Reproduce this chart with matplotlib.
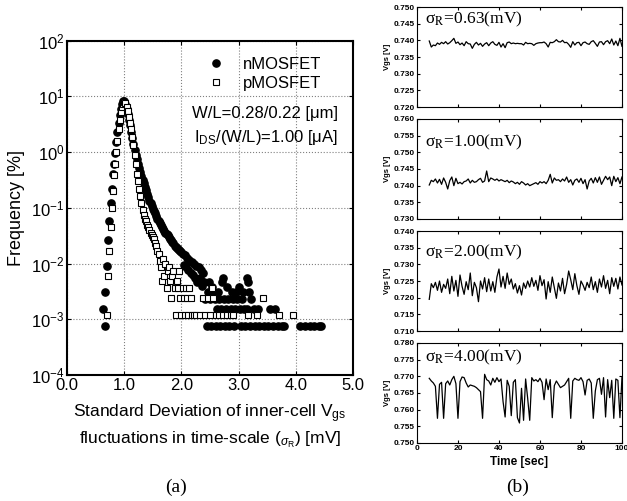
import matplotlib
matplotlib.use('Agg')
import matplotlib.pyplot as plt
import numpy as np

plt.rcParams['font.family'] = ['Liberation Sans', 'DejaVu Sans']
plt.rcParams['mathtext.fontset'] = 'custom'
plt.rcParams['mathtext.rm'] = 'Liberation Sans'
plt.rcParams['mathtext.it'] = 'Liberation Sans:italic'

# ---- (a) histogram of sigma_R ----
n_sigma = [0.63, 0.66, 0.67, 0.70, 0.72, 0.74, 0.76, 0.78, 0.80, 0.82,
           0.84, 0.86, 0.88, 0.90, 0.92, 0.94, 0.96, 0.98, 1.00, 1.02,
           1.04, 1.06, 1.08, 1.10, 1.12, 1.14, 1.16, 1.18, 1.20, 1.22,
           1.24, 1.26, 1.28, 1.30, 1.32, 1.34, 1.36, 1.38, 1.40, 1.42,
           1.44, 1.46, 1.48, 1.50, 1.52, 1.54, 1.56, 1.58, 1.60, 1.62,
           1.64, 1.66, 1.68, 1.70, 1.72, 1.74, 1.76, 1.78, 1.80, 1.82,
           1.84, 1.86, 1.88, 1.90, 1.92, 1.94, 1.96, 1.98, 2.00, 2.02,
           2.04, 2.06, 2.08, 2.10, 2.12, 2.14, 2.16, 2.18, 2.20, 2.22,
           2.24, 2.26, 2.28, 2.30, 2.32, 2.34, 2.36, 2.38, 2.40,
           2.42, 2.44, 2.46, 2.48, 2.50, 2.52, 2.54, 2.56, 2.58, 2.60,
           2.62, 2.64, 2.66, 2.68, 2.70, 2.71, 2.72, 2.74, 2.76, 2.78,
           2.80, 2.82, 2.84, 2.86, 2.88, 2.90, 2.92, 2.94, 2.96, 2.98,
           3.00, 3.02, 3.04, 3.06, 3.08, 3.10, 3.12, 3.14, 3.15, 3.16,
           3.18, 3.20, 3.22, 3.26, 3.28, 3.34, 3.36, 3.44, 3.52, 3.54,
           3.60, 3.64, 3.68, 3.76, 3.80, 4.08, 4.16, 4.24, 4.32, 4.40, 4.44]
n_freq = [1.54e-3, 7.7e-4, 3.08e-3, 9.2e-3, 0.026, 0.058, 0.12, 0.22, 0.40, 0.62,
          0.95, 1.5, 2.3, 3.3, 4.6, 6.0, 7.3, 8.3, 8.1, 7.2,
          6.0, 4.8, 3.8, 3.0, 2.3, 1.8, 1.4, 1.1, 0.90, 0.74,
          0.61, 0.51, 0.43, 0.37, 0.32, 0.28, 0.24, 0.21, 0.18, 0.155,
          0.135, 0.12, 0.107, 0.096, 0.087, 0.079, 0.071, 0.064, 0.058, 0.053,
          0.049, 0.045, 0.042, 0.039, 0.036, 0.034, 0.032, 0.030, 0.028, 0.026,
          0.024, 0.023, 0.021, 0.020, 0.019, 0.018, 0.0175, 0.017, 0.016, 0.015,
          0.0095, 0.014, 0.0085, 0.0125, 0.0077, 0.0115, 0.0069, 0.0105, 0.0062, 0.010,
          0.0054, 0.0092, 0.0046, 0.0085, 0.0054, 0.0077, 0.0039, 0.0069, 0.0046,
          2.31e-3, 7.7e-4, 3.08e-3, 4.62e-3, 2.31e-3, 7.7e-4, 3.85e-3, 3.08e-3, 2.31e-3, 7.7e-4,
          1.54e-3, 3.08e-3, 2.31e-3, 7.7e-4, 1.54e-3, 4.62e-3, 5.39e-3, 2.31e-3, 7.7e-4, 1.54e-3,
          3.85e-3, 2.31e-3, 7.7e-4, 1.54e-3, 3.08e-3, 2.31e-3, 7.7e-4, 1.54e-3, 3.08e-3, 2.31e-3,
          3.85e-3, 1.54e-3, 7.7e-4, 2.31e-3, 3.08e-3, 1.54e-3, 7.7e-4, 1.54e-3, 5.39e-3, 4.62e-3,
          3.08e-3, 7.7e-4, 2.31e-3, 1.54e-3, 7.7e-4, 1.54e-3, 7.7e-4, 7.7e-4, 7.7e-4, 1.54e-3,
          7.7e-4, 1.54e-3, 7.7e-4, 7.7e-4, 7.7e-4, 7.7e-4, 7.7e-4, 7.7e-4, 7.7e-4, 7.7e-4, 7.7e-4]

p_sigma = [0.69, 0.72, 0.74, 0.76, 0.78, 0.80, 0.82, 0.84, 0.86, 0.88,
           0.90, 0.92, 0.94, 0.96, 0.98, 1.00, 1.02, 1.04, 1.06, 1.08,
           1.10, 1.12, 1.14, 1.16, 1.18, 1.20, 1.22, 1.24, 1.26, 1.28,
           1.30, 1.32, 1.34, 1.36, 1.38, 1.40, 1.42, 1.44, 1.46, 1.48,
           1.50, 1.52, 1.54, 1.56, 1.58, 1.60, 1.62, 1.64, 1.66, 1.68,
           1.70, 1.72, 1.74, 1.76, 1.78, 1.80, 1.82, 1.84, 1.86, 1.88,
           1.90, 1.92, 1.94, 1.96, 1.98, 2.00, 2.02, 2.04, 2.06, 2.08,
           2.10, 2.12, 2.14, 2.16, 2.18, 2.22, 2.26, 2.32, 2.38, 2.42,
           2.46, 2.50, 2.53, 2.56, 2.60, 2.66, 2.72, 2.80, 2.86, 2.91,
           3.17, 3.32, 3.43, 3.71, 3.95]
p_freq = [1.21e-3, 6.0e-3, 0.017, 0.045, 0.098, 0.20, 0.38, 0.62, 1.0, 1.6,
          2.6, 3.8, 5.2, 6.5, 7.4, 7.9, 7.6, 6.4, 5.4, 4.3,
          3.3, 2.6, 1.9, 1.35, 0.90, 0.60, 0.40, 0.30, 0.22, 0.16,
          0.12, 0.092, 0.075, 0.064, 0.057, 0.050, 0.045, 0.040, 0.036, 0.033,
          0.030, 0.027, 0.023, 0.0206, 0.017, 0.0146, 0.0109, 8.49e-3, 4.85e-3, 0.0121,
          6.07e-3, 9.7e-3, 3.64e-3, 7.28e-3, 8.49e-3, 4.85e-3, 2.43e-3, 6.07e-3, 7.28e-3, 3.64e-3,
          1.21e-3, 4.85e-3, 3.64e-3, 7.28e-3, 2.43e-3, 1.21e-3, 3.64e-3, 2.43e-3, 1.21e-3, 3.64e-3,
          2.43e-3, 1.21e-3, 3.64e-3, 2.43e-3, 1.21e-3, 1.21e-3, 1.21e-3, 1.21e-3, 2.43e-3, 1.21e-3,
          2.43e-3, 1.21e-3, 3.64e-3, 2.43e-3, 1.21e-3, 1.21e-3, 1.21e-3, 1.21e-3, 1.21e-3, 1.21e-3,
          1.21e-3, 1.21e-3, 2.43e-3, 1.21e-3, 1.21e-3]

# ---- (b) Vgs traces, mV, one sample per second from t=6 s ----
sigma_labels = ['0.63', '1.00', '2.00', '4.00']
vgs_ranges = [(0.720, 0.750), (0.730, 0.760), (0.710, 0.740), (0.750, 0.780)]
vgs1 = [739.8, 738.0, 738.6, 738.4, 739.2, 738.8, 739.4, 739.0, 739.6, 738.9,
        739.3, 739.9, 740.6, 739.1, 739.5, 738.7, 739.2, 738.4, 739.6, 739.0,
        738.9, 737.6, 738.8, 739.4, 738.6, 739.1, 738.2, 738.9, 739.3, 738.4,
        739.2, 739.6, 738.8, 738.5, 739.4, 738.0, 739.0, 737.8, 739.3, 739.5,
        739.0, 739.2, 739.0, 739.1, 739.0, 739.0, 738.6, 739.4, 739.0, 739.1,
        739.0, 738.5, 739.0, 739.2, 739.3, 739.3, 739.5, 739.0, 738.0, 739.4,
        739.3, 739.6, 740.2, 739.6, 739.5, 740.0, 739.3, 739.4, 738.8, 737.9,
        739.6, 738.6, 739.3, 739.4, 738.4, 739.3, 739.5, 739.0, 738.8, 739.6,
        739.9, 739.1, 738.2, 739.5, 739.6, 738.7, 739.6, 739.9, 739.0, 740.4,
        738.6, 739.8, 738.4, 740.6, 738.2]
vgs2 = [740.2, 741.6, 741.2, 742.0, 740.8, 741.9, 740.4, 742.3, 741.0, 739.0,
        741.5, 742.6, 740.0, 742.2, 740.6, 741.0, 740.5, 741.2, 741.4, 742.0,
        740.8, 741.6, 741.0, 741.2, 741.8, 742.2, 741.0, 741.4, 744.4, 741.2,
        742.3, 742.0, 741.6, 742.0, 741.4, 741.8, 741.5, 741.2, 741.6, 740.9,
        741.4, 741.1, 740.6, 741.0, 740.4, 741.2, 740.8, 740.2, 740.6, 740.0,
        740.3, 740.6, 740.9, 740.4, 741.2, 740.8, 741.2, 740.6, 741.6, 743.4,
        740.8, 742.3, 741.6, 741.8, 741.2, 742.0, 741.4, 742.6, 741.0, 741.8,
        740.2, 741.6, 742.0, 741.0, 742.2, 740.6, 741.8, 739.0, 741.4, 742.2,
        740.8, 742.4, 741.0, 742.6, 740.4, 741.6, 742.8, 741.8, 742.6, 740.0,
        742.8, 741.2, 742.4, 740.6, 742.6]
vgs3 = [719.5, 724.2, 723.0, 724.6, 722.2, 725.0, 721.6, 724.0, 722.8, 725.6,
        721.2, 726.4, 722.0, 725.2, 720.4, 726.8, 723.4, 721.0, 724.8, 722.4,
        727.4, 720.6, 724.6, 723.0, 718.8, 725.0, 722.6, 726.0, 721.8, 725.6,
        722.0, 724.8, 721.6, 726.2, 728.6, 723.2, 726.4, 722.8, 727.4, 724.0,
        725.6, 722.6, 724.2, 721.4, 723.6, 720.8, 724.4, 722.8, 725.0, 723.2,
        726.0, 723.4, 725.2, 722.2, 726.6, 723.6, 725.4, 719.6, 724.8, 721.6,
        726.2, 723.0, 719.8, 724.4, 722.0, 725.8, 721.2, 724.0, 728.0, 725.4,
        722.4, 727.2, 723.6, 721.0, 725.0, 723.8, 722.2, 724.6, 723.0, 726.2,
        722.4, 724.8, 721.6, 725.6, 723.2, 726.6, 722.8, 725.2, 721.2, 726.0,
        723.4, 725.8, 722.6, 726.2, 723.8]
vgs4 = [769.4, 768.6, 768.0, 767.0, 757.4, 767.6, 768.2, 757.4, 767.8, 768.6,
        767.4, 769.0, 770.0, 767.8, 757.4, 768.4, 769.8, 769.6, 768.0, 766.8,
        767.4, 767.2, 767.0, 766.6, 766.0, 765.4, 757.4, 770.6, 769.0, 768.6,
        767.4, 769.4, 768.2, 769.6, 768.4, 769.2, 762.4, 757.8, 768.8, 767.0,
        758.2, 768.2, 769.0, 757.6, 756.0, 766.4, 756.8, 769.2, 763.4, 756.8,
        769.6, 768.6, 769.0, 768.4, 769.4, 768.2, 763.0, 769.2, 766.0, 769.0,
        757.6, 767.2, 768.6, 767.6, 766.6, 767.0, 767.4, 768.4, 769.4, 757.4,
        768.6, 769.4, 769.0, 768.8, 769.6, 768.4, 764.4, 768.8, 769.2, 768.0,
        757.4, 765.6, 769.0, 769.4, 764.6, 769.6, 757.8, 769.0, 763.6, 768.8,
        757.4, 769.2, 768.8, 757.6, 769.8]
traces = [vgs1, vgs2, vgs3, vgs4]

fig = plt.figure(figsize=(6.27, 5.01), dpi=100)

# Left panel
ax = fig.add_axes([0.107, 0.2515, 0.456, 0.6675])
ax.plot(n_sigma, n_freq, linestyle='none', marker='o', color='black',
        markersize=5.2, label='nMOSFET')
ax.plot(p_sigma, p_freq, linestyle='none', marker='s', markerfacecolor='white',
        markeredgecolor='black', markeredgewidth=0.8, markersize=4.3, label='pMOSFET')
ax.set_yscale('log')
ax.set_xlim(0, 5)
ax.set_ylim(1e-4, 1e2)
ax.set_xticks([0, 1, 2, 3, 4, 5])
ax.set_xticklabels(['0.0', '1.0', '2.0', '3.0', '4.0', '5.0'])
ax.set_yticks([1e-4, 1e-3, 1e-2, 1e-1, 1e0, 1e1, 1e2])
ax.yaxis.set_minor_locator(matplotlib.ticker.NullLocator())
ax.tick_params(direction='in', top=True, right=True, labelsize=12, length=3, pad=2)
ax.grid(True, linestyle=':', color='gray', linewidth=0.8)
for s in ax.spines.values():
    s.set_linewidth(1.5)
ax.set_ylabel('Frequency [%]', fontsize=13, labelpad=4)
ax.set_xlabel('Standard Deviation of inner-cell V$_{\\rm gs}$\n'
              'fluctuations in time-scale ($_{\\sigma_{\\rm R}}$) [mV]',
              fontsize=12.5, linespacing=1.3, labelpad=7)
ax.legend(loc='upper right', bbox_to_anchor=(0.93, 0.985), frameon=False,
          fontsize=12, handletextpad=0.6, labelspacing=0.2, borderaxespad=0.3)
ax.text(0.948, 0.783, 'W/L=0.28/0.22 [μm]', transform=ax.transAxes,
        ha='right', va='center', fontsize=12)
ax.text(0.948, 0.711, 'I$_{\\rm DS}$/(W/L)=1.00 [μA]', transform=ax.transAxes,
        ha='right', va='center', fontsize=12)

# Right panels
bottoms = [0.7864, 0.5629, 0.3393, 0.1158]
text_y = [0.88, 0.77, 0.79, 0.86]
for i in range(4):
    axr = fig.add_axes([0.665, bottoms[i], 0.327, 0.1996])
    t = np.arange(len(traces[i])) + 6
    axr.plot(t, np.array(traces[i]) / 1000.0, color='black', linewidth=0.9)
    lo, hi = vgs_ranges[i]
    axr.set_ylim(lo, hi)
    axr.set_xlim(0, 100)
    axr.set_yticks(np.round(np.arange(lo, hi + 0.001, 0.005), 3))
    axr.yaxis.set_major_formatter(matplotlib.ticker.FormatStrFormatter('%.3f'))
    axr.set_xticks([0, 20, 40, 60, 80, 100])
    axr.tick_params(direction='in', top=True, right=True, labelsize=6, length=2, pad=1.5)
    for lab in axr.get_yticklabels() + axr.get_xticklabels():
        lab.set_fontweight('bold')
    if i < 3:
        axr.set_xticklabels([])
    else:
        axr.set_xlabel('Time [sec]', fontsize=8.5, fontweight='bold', labelpad=3)
    axr.set_ylabel('Vgs [V]', fontsize=5.5, fontweight='bold', labelpad=2)
    axr.text(0.04, text_y[i], 'σ$_{\\rm R}$=' + sigma_labels[i] + '(mV)',
             transform=axr.transAxes, ha='left', va='center', fontsize=12.5,
             family='Liberation Serif', math_fontfamily='stix')

fig.text(0.28, 0.027, '(a)', ha='center', va='center', fontsize=14, family='Liberation Serif')
fig.text(0.825, 0.027, '(b)', ha='center', va='center', fontsize=14, family='Liberation Serif')

fig.savefig('out.png', dpi=100)
